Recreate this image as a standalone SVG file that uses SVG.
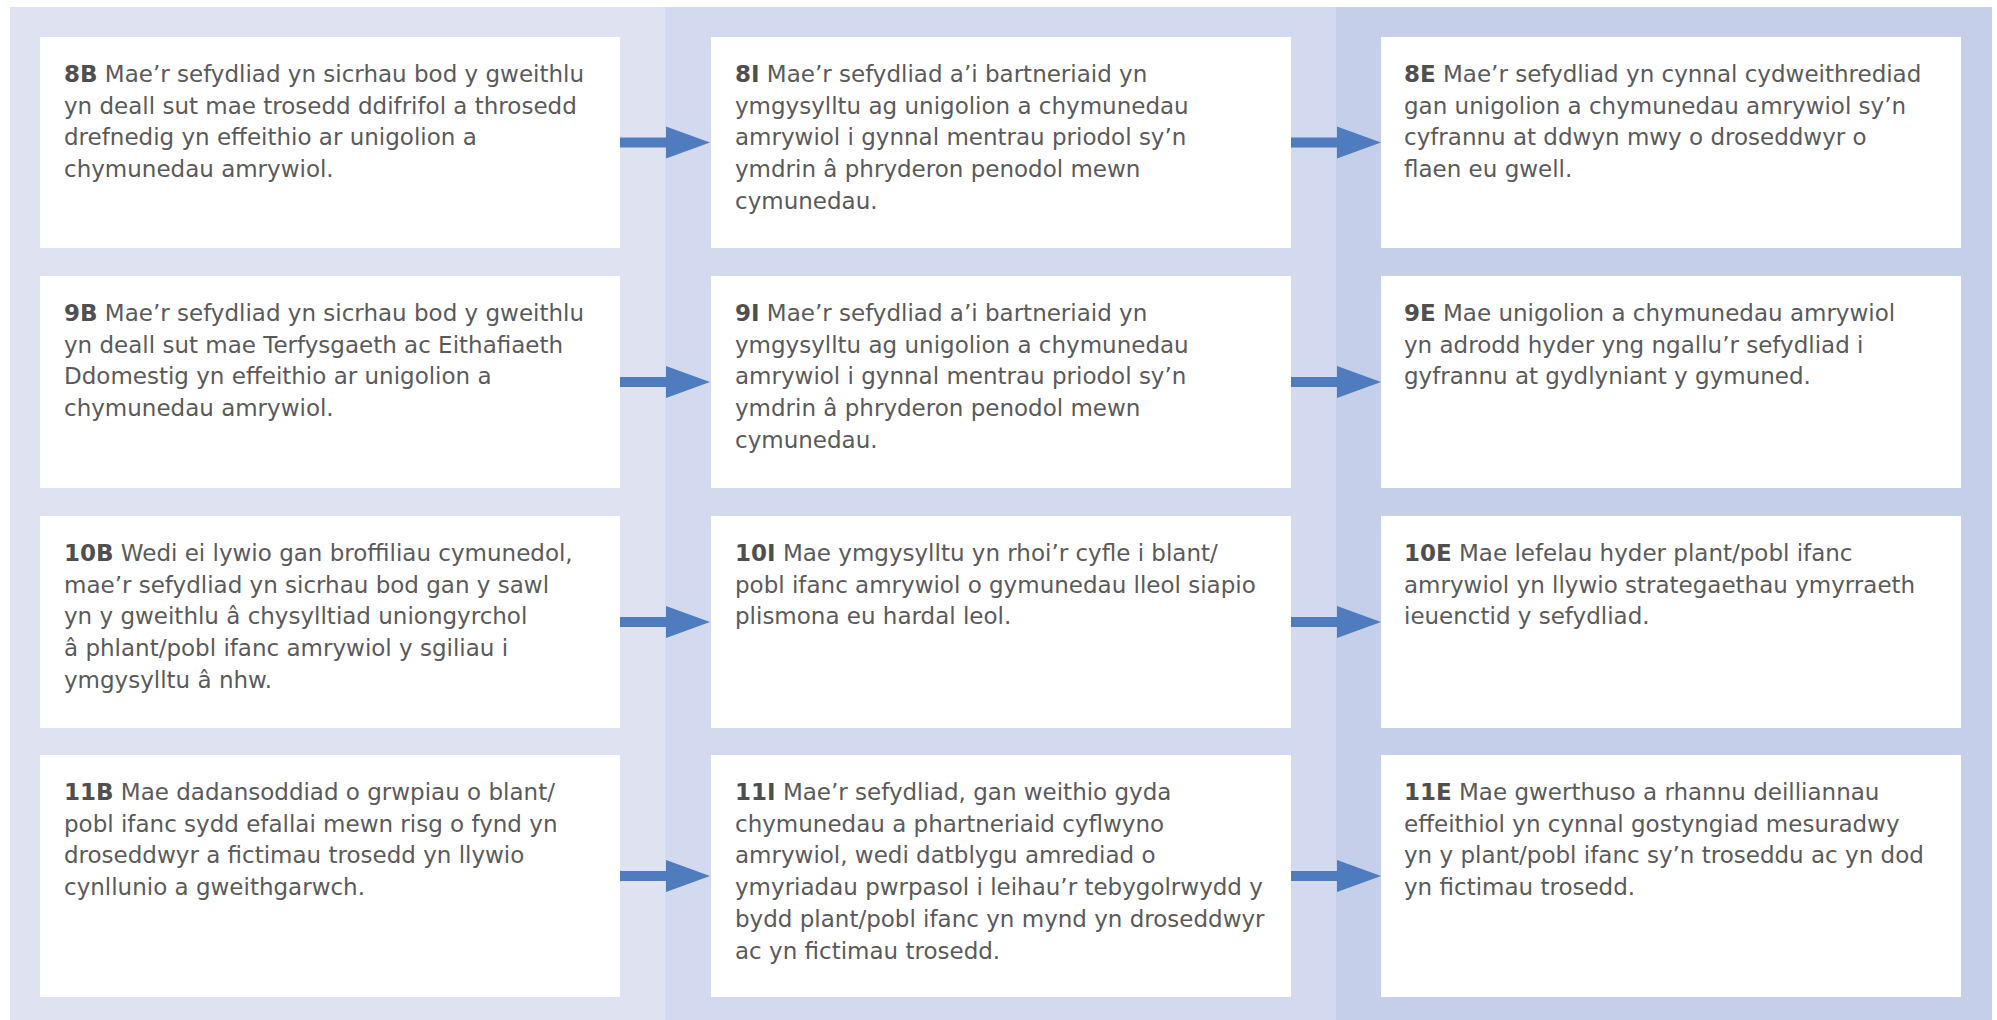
<svg xmlns="http://www.w3.org/2000/svg" width="1997" height="1020" viewBox="0 0 1997 1020">
<defs>
<style>
.box{fill:#ffffff}
.t{font-family:"DejaVu Sans","Liberation Sans",sans-serif;font-size:23px;fill:#5a5a5a}
.b{font-weight:bold;fill:#4f4f4f}
.arr{fill:#4f7bbf}
</style>
<path id="arrow" d="M0,-5 H46 V-16 L90,0 L46,16 V5 H0 Z"/>
</defs>
<rect x="0" y="0" width="1997" height="1020" fill="#ffffff"/>
<rect x="10" y="7" width="655" height="1013" fill="#dfe3f1"/>
<rect x="665" y="7" width="671" height="1013" fill="#d3d9ee"/>
<rect x="1336" y="7" width="656" height="1013" fill="#c5cfe9"/>

<g id="connectors" class="arr">
<use href="#arrow" x="620" y="142.5"/>
<use href="#arrow" x="1291" y="142.5"/>
<use href="#arrow" x="620" y="382"/>
<use href="#arrow" x="1291" y="382"/>
<use href="#arrow" x="620" y="622"/>
<use href="#arrow" x="1291" y="622"/>
<use href="#arrow" x="620" y="876"/>
<use href="#arrow" x="1291" y="876"/>
</g>

<g id="n8B"><rect class="box" x="40" y="37" width="580" height="211"/>
<text class="t" x="64" y="82"><tspan class="b">8B</tspan> Mae’r sefydliad yn sicrhau bod y gweithlu<tspan x="64" dy="31.7">yn deall sut mae trosedd ddifrifol a throsedd</tspan><tspan x="64" dy="31.7">drefnedig yn effeithio ar unigolion a</tspan><tspan x="64" dy="31.7">chymunedau amrywiol.</tspan></text></g>

<g id="n8I"><rect class="box" x="711" y="37" width="580" height="211"/>
<text class="t" x="735" y="82"><tspan class="b">8I</tspan> Mae’r sefydliad a’i bartneriaid yn<tspan x="735" dy="31.7">ymgysylltu ag unigolion a chymunedau</tspan><tspan x="735" dy="31.7">amrywiol i gynnal mentrau priodol sy’n</tspan><tspan x="735" dy="31.7">ymdrin â phryderon penodol mewn</tspan><tspan x="735" dy="31.7">cymunedau.</tspan></text></g>

<g id="n8E"><rect class="box" x="1381" y="37" width="580" height="211"/>
<text class="t" x="1404" y="82"><tspan class="b">8E</tspan> Mae’r sefydliad yn cynnal cydweithrediad<tspan x="1404" dy="31.7">gan unigolion a chymunedau amrywiol sy’n</tspan><tspan x="1404" dy="31.7">cyfrannu at ddwyn mwy o droseddwyr o</tspan><tspan x="1404" dy="31.7">flaen eu gwell.</tspan></text></g>

<g id="n9B"><rect class="box" x="40" y="276" width="580" height="212"/>
<text class="t" x="64" y="321"><tspan class="b">9B</tspan> Mae’r sefydliad yn sicrhau bod y gweithlu<tspan x="64" dy="31.7">yn deall sut mae Terfysgaeth ac Eithafiaeth</tspan><tspan x="64" dy="31.7">Ddomestig yn effeithio ar unigolion a</tspan><tspan x="64" dy="31.7">chymunedau amrywiol.</tspan></text></g>

<g id="n9I"><rect class="box" x="711" y="276" width="580" height="212"/>
<text class="t" x="735" y="321"><tspan class="b">9I</tspan> Mae’r sefydliad a’i bartneriaid yn<tspan x="735" dy="31.7">ymgysylltu ag unigolion a chymunedau</tspan><tspan x="735" dy="31.7">amrywiol i gynnal mentrau priodol sy’n</tspan><tspan x="735" dy="31.7">ymdrin â phryderon penodol mewn</tspan><tspan x="735" dy="31.7">cymunedau.</tspan></text></g>

<g id="n9E"><rect class="box" x="1381" y="276" width="580" height="212"/>
<text class="t" x="1404" y="321"><tspan class="b">9E</tspan> Mae unigolion a chymunedau amrywiol<tspan x="1404" dy="31.7">yn adrodd hyder yng ngallu’r sefydliad i</tspan><tspan x="1404" dy="31.7">gyfrannu at gydlyniant y gymuned.</tspan></text></g>

<g id="n10B"><rect class="box" x="40" y="516" width="580" height="212"/>
<text class="t" x="64" y="561"><tspan class="b">10B</tspan> Wedi ei lywio gan broffiliau cymunedol,<tspan x="64" dy="31.7">mae’r sefydliad yn sicrhau bod gan y sawl</tspan><tspan x="64" dy="31.7">yn y gweithlu â chysylltiad uniongyrchol</tspan><tspan x="64" dy="31.7">â phlant/pobl ifanc amrywiol y sgiliau i</tspan><tspan x="64" dy="31.7">ymgysylltu â nhw.</tspan></text></g>

<g id="n10I"><rect class="box" x="711" y="516" width="580" height="212"/>
<text class="t" x="735" y="561"><tspan class="b">10I</tspan> Mae ymgysylltu yn rhoi’r cyfle i blant/<tspan x="735" dy="31.7">pobl ifanc amrywiol o gymunedau lleol siapio</tspan><tspan x="735" dy="31.7">plismona eu hardal leol.</tspan></text></g>

<g id="n10E"><rect class="box" x="1381" y="516" width="580" height="212"/>
<text class="t" x="1404" y="561"><tspan class="b">10E</tspan> Mae lefelau hyder plant/pobl ifanc<tspan x="1404" dy="31.7">amrywiol yn llywio strategaethau ymyrraeth</tspan><tspan x="1404" dy="31.7">ieuenctid y sefydliad.</tspan></text></g>

<g id="n11B"><rect class="box" x="40" y="755" width="580" height="242"/>
<text class="t" x="64" y="800"><tspan class="b">11B</tspan> Mae dadansoddiad o grwpiau o blant/<tspan x="64" dy="31.7">pobl ifanc sydd efallai mewn risg o fynd yn</tspan><tspan x="64" dy="31.7">droseddwyr a fictimau trosedd yn llywio</tspan><tspan x="64" dy="31.7">cynllunio a gweithgarwch.</tspan></text></g>

<g id="n11I"><rect class="box" x="711" y="755" width="580" height="242"/>
<text class="t" x="735" y="800"><tspan class="b">11I</tspan> Mae’r sefydliad, gan weithio gyda<tspan x="735" dy="31.7">chymunedau a phartneriaid cyflwyno</tspan><tspan x="735" dy="31.7">amrywiol, wedi datblygu amrediad o</tspan><tspan x="735" dy="31.7">ymyriadau pwrpasol i leihau’r tebygolrwydd y</tspan><tspan x="735" dy="31.7">bydd plant/pobl ifanc yn mynd yn droseddwyr</tspan><tspan x="735" dy="31.7">ac yn fictimau trosedd.</tspan></text></g>

<g id="n11E"><rect class="box" x="1381" y="755" width="580" height="242"/>
<text class="t" x="1404" y="800"><tspan class="b">11E</tspan> Mae gwerthuso a rhannu deilliannau<tspan x="1404" dy="31.7">effeithiol yn cynnal gostyngiad mesuradwy</tspan><tspan x="1404" dy="31.7">yn y plant/pobl ifanc sy’n troseddu ac yn dod</tspan><tspan x="1404" dy="31.7">yn fictimau trosedd.</tspan></text></g>
</svg>
